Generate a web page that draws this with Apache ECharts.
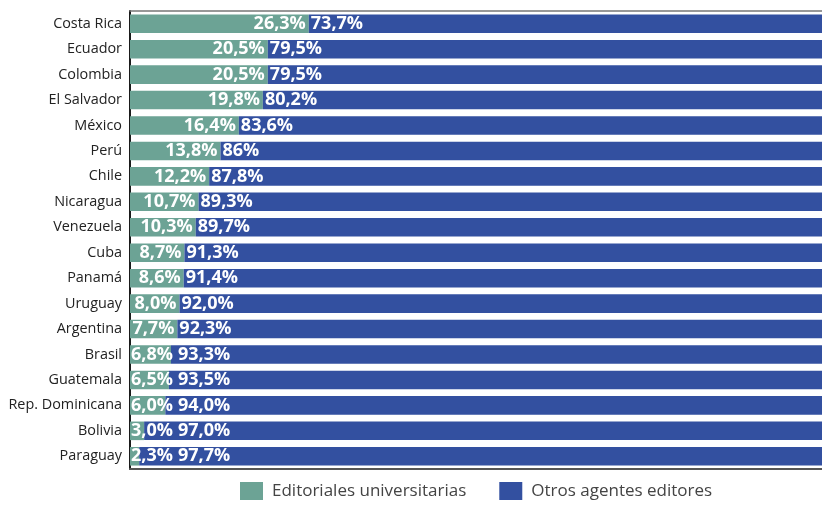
<!DOCTYPE html>
<html>
<head>
<meta charset="utf-8">
<script src="https://cdn.jsdelivr.net/npm/echarts@6/dist/echarts.min.js"></script>
<style>html,body{margin:0;padding:0;background:#fff}</style>
</head>
<body>
<div id="chart" style="width:822px;height:505px;"></div>
<script>
const paises = ['Costa Rica', 'Ecuador', 'Colombia', 'El Salvador', 'México', 'Perú', 'Chile',
  'Nicaragua', 'Venezuela', 'Cuba', 'Panamá', 'Uruguay', 'Argentina', 'Brasil', 'Guatemala',
  'Rep. Dominicana', 'Bolivia', 'Paraguay'];
// valores tal como aparecen en las etiquetas
const editoriales = ['26,3', '20,5', '20,5', '19,8', '16,4', '13,8', '12,2', '10,7', '10,3',
  '8,7', '8,6', '8,0', '7,7', '6,8', '6,5', '6,0', '3,0', '2,3'];
const otros = ['73,7', '79,5', '79,5', '80,2', '83,6', '86', '87,8', '89,3', '89,7',
  '91,3', '91,4', '92,0', '92,3', '93,3', '93,5', '94,0', '97,0', '97,7'];
const leyenda = ['Editoriales universitarias', 'Otros agentes editores'];

const toNum = s => parseFloat(s.replace(',', '.'));

const GRID_LEFT = 130;
const LABEL_FONT = 'bold 18px "Open Sans"';
const ctx = document.createElement('canvas').getContext('2d');
ctx.font = LABEL_FONT;
const textWidth = t => ctx.measureText(t).width;

// la etiqueta verde cabe dentro de su barra?
function greenFits(i, barEnd) {
  return textWidth(editoriales[i] + '%') + 4 <= barEnd - GRID_LEFT;
}

const chart = echarts.init(document.getElementById('chart'));

const labelBase = {
  show: true,
  color: '#fff',
  fontFamily: 'Open Sans',
  fontWeight: 'bold',
  fontSize: 18
};

const option = {
  animation: false,
  grid: { left: GRID_LEFT, right: 0, top: 11, bottom: 36 },
  legend: {
    data: leyenda,
    left: 240,
    top: 482,
    padding: 0,
    icon: 'rect',
    itemWidth: 23,
    itemHeight: 18,
    itemGap: 33,
    textStyle: { fontFamily: 'Open Sans', fontSize: 17, color: '#444', padding: [0, 0, 0, 4] }
  },
  xAxis: [
    {
      type: 'value', min: 1, max: 98.9, position: 'bottom',
      axisLine: { show: true, lineStyle: { color: '#555', width: 2 } },
      axisTick: { show: false }, axisLabel: { show: false }, splitLine: { show: false }
    },
    {
      type: 'value', min: 1, max: 98.9, position: 'top',
      axisLine: { show: true, lineStyle: { color: '#777', width: 1.5 } },
      axisTick: { show: false }, axisLabel: { show: false }, splitLine: { show: false }
    }
  ],
  yAxis: {
    type: 'category',
    inverse: true,
    data: paises,
    axisLine: { show: true, lineStyle: { color: '#1a1a1a', width: 2 } },
    axisTick: { show: false },
    axisLabel: { color: '#222', fontFamily: 'Open Sans', fontSize: 14.4, margin: 8 }
  },
  series: [
    {
      name: leyenda[0],
      type: 'bar',
      stack: 'total',
      clip: true,
      barCategoryGap: '27%',
      itemStyle: { color: '#6ca395' },
      data: editoriales.map(toNum),
      label: Object.assign({}, labelBase, {
        position: 'insideRight',
        distance: 3,
        formatter: p => editoriales[p.dataIndex] + '%'
      }),
      labelLayout: function (p) {
        const end = p.rect.x + p.rect.width;
        if (!greenFits(p.dataIndex, end)) {
          return { x: GRID_LEFT + 1, y: p.rect.y + p.rect.height / 2, align: 'left', verticalAlign: 'middle' };
        }
        return {};
      }
    },
    {
      name: leyenda[1],
      type: 'bar',
      stack: 'total',
      clip: true,
      itemStyle: { color: '#3350a0' },
      data: otros.map(toNum),
      label: Object.assign({}, labelBase, {
        position: 'insideLeft',
        distance: 1,
        formatter: p => otros[p.dataIndex] + '%'
      }),
      labelLayout: function (p) {
        const end = p.rect.x;
        const w = textWidth(editoriales[p.dataIndex] + '%');
        const greenRight = greenFits(p.dataIndex, end) ? end - 3 : GRID_LEFT + 1 + w;
        return {
          x: Math.max(end + 1, greenRight + 5),
          y: p.rect.y + p.rect.height / 2,
          align: 'left',
          verticalAlign: 'middle'
        };
      }
    }
  ]
};

chart.setOption(option);
</script>
</body>
</html>
